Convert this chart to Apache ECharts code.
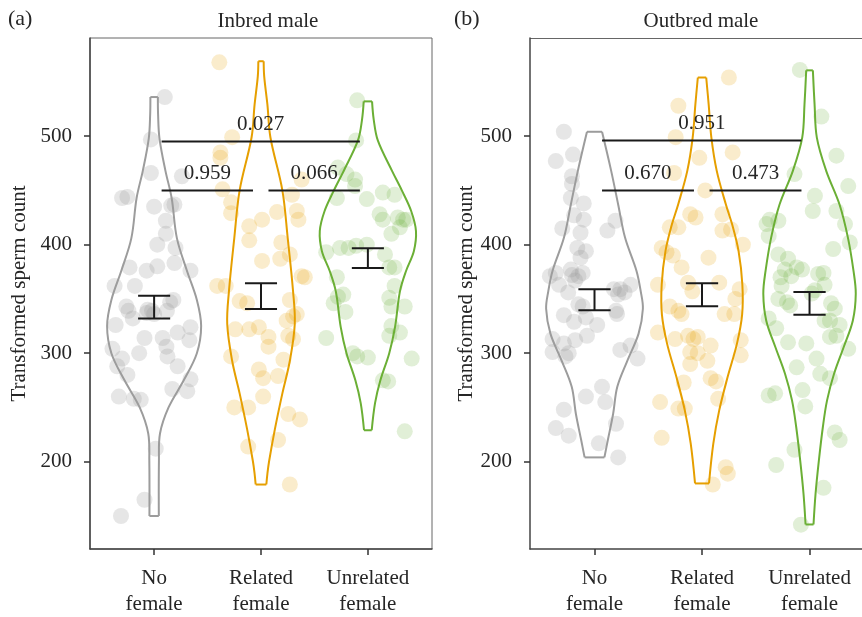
<!DOCTYPE html>
<html><head><meta charset="utf-8">
<script src="https://cdn.jsdelivr.net/npm/echarts@6/dist/echarts.min.js"></script>
<style>html,body{margin:0;padding:0;background:#fff}#c{width:862px;height:617px}</style>
</head><body><div id="c"></div>
<script>
// ---------- DATA ----------
const categories = ['No\nfemale', 'Related\nfemale', 'Unrelated\nfemale'];
const yTicks = [200, 300, 400, 500];
const panelTitles = ['Inbred male', 'Outbred male'];
const panelTags = ['(a)', '(b)'];
const yName = 'Transformed sperm count';

// jittered points: [x offset from category, value]
const noFemaleInbred = [[0.10,536],[-0.03,497],[-0.03,466],[0.26,463],[-0.30,443],[-0.25,444],[0,435],[0.16,436],[0.19,437],[0.11,422],[0.11,410],[0.03,400],[0.20,397],[-0.23,379],[-0.07,376],[0.03,380],[0.19,383],[0.34,376],[-0.37,362],[-0.18,362],[-0.26,343],[-0.24,339],[-0.07,337],[-0.02,339],[0.12,339],[0.18,349],[-0.2,332],[-0.36,326],[-0.06,340],[0,336],[0.15,347],[-0.09,314],[0.08,314],[0.22,319],[0.34,324],[0.33,312],[-0.39,304],[-0.14,300],[0.115,306],[0.125,297],[-0.3,295],[-0.345,288],[-0.25,280],[0.22,288],[0.34,276],[0.17,267],[0.31,265],[-0.33,260],[-0.19,258],[-0.125,257],[0.015,212],[-0.09,165],[-0.31,150]];
const relatedInbred = [[-0.39,568],[-0.27,499],[-0.38,485],[-0.38,480],[-0.36,451],[-0.28,439],[-0.28,429],[-0.11,417],[-0.11,404],[0.01,423],[0.01,385],[-0.41,362],[-0.33,362],[0.38,460],[0.29,446],[0.335,431],[0.35,423],[0.15,430],[0.19,402],[0.27,391],[0.18,387],[0.38,371],[0.41,370],[-0.2,348],[-0.13,346],[0.27,349],[0.335,336],[-0.24,322],[-0.11,322],[-0.02,324],[-0.28,297],[-0.02,285],[0.02,277],[-0.25,250],[-0.12,250],[-0.12,214],[0.3,334],[0.24,330],[0.07,315],[0.07,306],[0.255,316],[0.3,313],[0.21,294],[0.16,279],[0.02,260],[0.255,244],[0.365,239],[0.16,220],[0.27,179]];
const unrelatedInbred = [[-0.1,533],[-0.11,496],[-0.28,471],[-0.2,465],[-0.12,460],[-0.12,454],[-0.29,443],[-0.01,442],[0.14,448],[0.25,446],[0.11,428],[0.14,423],[0.28,425],[0.33,423],[0.36,423],[0.22,410],[0.3,416],[-0.26,397],[-0.18,397],[-0.11,399],[-0.01,400],[-0.39,393],[0.16,391],[0.2,379],[0.25,379],[-0.29,370],[0.25,362],[-0.23,354],[-0.28,352],[-0.21,338],[0.345,343],[-0.39,314],[-0.32,346],[-0.14,300],[-0.1,297],[0,296],[0.14,275],[0.19,274],[0.41,295],[0.345,228],[0.22,325],[0.3,319],[0.22,343],[0.2,351],[0.2,316]];
const noFemaleOutbred = [[-0.285,504],[-0.36,477],[-0.2,483],[-0.21,463],[-0.21,456],[-0.22,443],[-0.1,438],[-0.19,427],[-0.1,423],[-0.3,415],[-0.13,411],[0.195,422],[0.12,413],[-0.16,397],[-0.08,394],[-0.13,388],[-0.36,374],[-0.22,377],[-0.11,374],[-0.18,367],[-0.33,363],[0.18,359],[0.24,359],[0.335,363],[-0.415,371],[-0.21,372],[-0.15,371],[-0.245,356],[-0.15,345],[-0.11,343],[0.22,354],[0.28,356],[0.2,339],[-0.285,335],[-0.19,329],[-0.08,333],[0.025,326],[0.21,336],[-0.39,313],[-0.285,309],[-0.18,312],[-0.07,316],[-0.39,301],[-0.27,297],[-0.24,300],[0.24,303],[0.335,307],[0.4,295],[0.07,269],[-0.08,260],[0.1,255],[-0.285,248],[-0.36,231],[-0.24,224],[0.2,235],[0.04,217],[0.22,204]];
const relatedOutbred = [[-0.22,528],[-0.245,499],[-0.26,466],[-0.11,428],[-0.3,416],[-0.22,416],[-0.375,397],[-0.33,393],[-0.27,390],[-0.19,379],[-0.41,363],[-0.13,365],[0.25,554],[-0.025,480],[0.285,485],[0.03,450],[-0.06,425],[0.19,428],[0.27,414],[0.19,413],[0.38,400],[0.06,388],[0.16,365],[0.35,359],[-0.3,343],[-0.22,339],[-0.19,336],[-0.41,319],[-0.25,313],[-0.13,316],[-0.08,313],[-0.11,301],[-0.11,290],[-0.17,273],[-0.39,255],[-0.22,249],[-0.16,249],[-0.375,222],[0.21,336],[0.3,336],[0.31,350],[-0.04,315],[0.08,307],[0.36,312],[0.36,298],[-0.04,300],[0.05,293],[0.08,277],[0.13,274],[0.15,258],[0.22,195],[0.24,189],[0.1,179],[-0.09,357]];
const unrelatedOutbred = [[-0.09,561],[0.11,518],[0.25,482],[-0.14,465],[0.36,454],[0.05,445],[0.03,431],[0.25,431],[0.33,419],[-0.37,423],[-0.29,422],[-0.4,419],[-0.38,408],[0.375,402],[0.22,396],[-0.29,391],[-0.2,387],[-0.12,379],[-0.07,377],[-0.23,377],[-0.27,370],[-0.17,371],[0.08,373],[0.14,363],[-0.26,362],[-0.29,350],[-0.21,347],[-0.18,344],[0.02,355],[-0.38,332],[-0.31,323],[-0.2,310],[-0.03,309],[0.065,295],[-0.12,287],[0.1,281],[0.19,277],[-0.38,261],[-0.32,263],[-0.065,266],[-0.04,251],[0.235,341],[0.19,330],[0.28,326],[0.19,315],[0.25,316],[0.36,304],[0.14,330],[0.235,227],[0.28,220],[-0.14,211],[-0.31,197],[0.13,176],[-0.08,142],[0.05,358],[0.2,346],[0.13,374]];

// violin outlines: [value, half width in category units]
const violinNoInbred = [[536,0.035],[520,0.037],[498,0.05],[468,0.106],[443,0.164],[406,0.213],[376,0.307],[349,0.40],[325,0.44],[300,0.40],[275,0.277],[250,0.135],[226,0.055],[201,0.045],[150,0.044]];
const violinRelInbred = [[569,0.025],[555,0.03],[529,0.06],[499,0.088],[450,0.2],[406,0.25],[357,0.3],[327,0.316],[293,0.27],[263,0.2],[230,0.13],[200,0.075],[189,0.06],[179,0.05]];
const violinUnInbred = [[532,0.039],[515,0.055],[496,0.093],[468,0.226],[449.5,0.32],[431,0.405],[412.6,0.45],[394,0.43],[376,0.358],[357,0.30],[324,0.254],[300,0.2],[275,0.117],[254,0.067],[229,0.036]];
const violinNoOutbred = [[504,0.07],[468,0.155],[437,0.22],[406.5,0.284],[376,0.39],[357,0.43],[341,0.45],[318,0.41],[293,0.305],[269,0.212],[244,0.173],[220,0.124],[204,0.092]];
const violinRelOutbred = [[554,0.039],[529,0.062],[498.6,0.087],[468,0.137],[437,0.222],[418.7,0.28],[394,0.34],[363.4,0.375],[335.5,0.373],[308.8,0.325],[278,0.238],[247.3,0.16],[216.6,0.105],[180,0.065]];
const violinUnOutbred = [[560.6,0.031],[529,0.047],[498.6,0.068],[468,0.155],[437,0.279],[406.5,0.357],[375.8,0.409],[354.8,0.43],[330.2,0.403],[305.7,0.318],[281,0.228],[256.5,0.163],[232,0.124],[201.2,0.087],[170.5,0.056],[142.2,0.037]];

// mean +/- SE : [low, high]
const seInbred = [[332,353],[340.7,364.4],[378.5,396.6]];
const seOutbred = [[339.5,359],[343.3,364.4],[335.5,356.4]];

// comparisons: [from category, to category, height]
const bracketsInbred = [[1,3,495],[1,2,450],[2,3,450]];
const pInbred = ['0.027','0.959','0.066'];
const bracketsOutbred = [[1,3,496],[1,2,450],[2,3,450]];
const pOutbred = ['0.951','0.670','0.473'];

// ---------- STYLE ----------
const FONT = '"Liberation Serif", "DejaVu Serif", serif';
const TXT = '#262626';
const lineColors = ['#9c9c9c', '#E69F00', '#6BAF35'];
const pointColors = ['rgba(153,153,153,0.3)', 'rgba(230,159,0,0.25)', 'rgba(107,175,53,0.25)'];

const chart = echarts.init(document.getElementById('c'), null, {renderer: 'canvas'});

// panel b is cut by the right edge of the picture: its visible x range stops at 3.49
function axisPair(i, xMax, nameGap) {
  return {
    x: {
      type: 'value', gridIndex: i, min: 0.4, max: xMax,
      axisLine: {show: true, lineStyle: {color: '#444', width: 1.5}},
      axisTick: {show: true, customValues: [1, 2, 3], length: 6, lineStyle: {color: '#333', width: 1.5}},
      axisLabel: {show: true, customValues: [1, 2, 3], formatter: v => categories[Math.round(v) - 1],
        fontFamily: FONT, fontSize: 21, color: TXT, lineHeight: 26, margin: 16},
      splitLine: {show: false}
    },
    y: {
      type: 'value', gridIndex: i, min: 119.6, max: 590.4,
      name: yName, nameLocation: 'middle', nameRotate: 90, nameGap: nameGap,
      nameTextStyle: {fontFamily: FONT, fontSize: 21, color: TXT},
      axisLine: {show: true, lineStyle: {color: '#444', width: 1.5}},
      axisTick: {show: true, customValues: yTicks, length: 6, lineStyle: {color: '#333', width: 1.5}},
      axisLabel: {show: true, customValues: yTicks, fontFamily: FONT, fontSize: 21, color: TXT, margin: 18},
      splitLine: {show: false}
    }
  };
}
const ax0 = axisPair(0, 3.6, 60), ax1 = axisPair(1, 3.488, 52);

function panelSeries(i, pointSets, violins, ses, brackets, plabels) {
  const out = [];
  pointSets.forEach((pts, g) => {
    out.push({
      type: 'scatter', xAxisIndex: i, yAxisIndex: i, symbolSize: 16, z: 1, silent: true,
      itemStyle: {color: pointColors[g], borderWidth: 0},
      data: pts.map(p => [g + 1 + p[0], p[1]])
    });
  });
  out.push({
    type: 'custom', xAxisIndex: i, yAxisIndex: i, z: 3, silent: true,
    data: violins.map((v, g) => [g + 1, v[0][0]]),
    renderItem: function (params, api) {
      const g = params.dataIndex, cx = g + 1, prof = violins[g];
      const L = prof.map(p => api.coord([cx - p[1], p[0]]));
      const R = prof.map(p => api.coord([cx + p[1], p[0]]));
      const st = {stroke: lineColors[g], lineWidth: 2, fill: null};
      return {type: 'group', children: [
        {type: 'polyline', shape: {points: L, smooth: 0.35}, style: st},
        {type: 'polyline', shape: {points: R, smooth: 0.35}, style: st},
        {type: 'line', shape: {x1: L[0][0], y1: L[0][1], x2: R[0][0], y2: R[0][1]}, style: st},
        {type: 'line', shape: {x1: L[L.length-1][0], y1: L[L.length-1][1], x2: R[R.length-1][0], y2: R[R.length-1][1]}, style: st}
      ]};
    }
  });
  out.push({
    type: 'custom', xAxisIndex: i, yAxisIndex: i, z: 4, silent: true,
    data: ses.map((s, g) => [g + 1, s[0], s[1]]),
    renderItem: function (params, api) {
      const x = api.value(0), lo = api.value(1), hi = api.value(2), w = 0.15;
      const a = api.coord([x, lo]), b = api.coord([x, hi]);
      const al = api.coord([x - w, lo]), ar = api.coord([x + w, lo]);
      const bl = api.coord([x - w, hi]), br = api.coord([x + w, hi]);
      const st = {stroke: '#1a1a1a', lineWidth: 2};
      return {type: 'group', children: [
        {type: 'line', shape: {x1: a[0], y1: a[1], x2: b[0], y2: b[1]}, style: st},
        {type: 'line', shape: {x1: al[0], y1: al[1], x2: ar[0], y2: ar[1]}, style: st},
        {type: 'line', shape: {x1: bl[0], y1: bl[1], x2: br[0], y2: br[1]}, style: st}
      ]};
    }
  });
  out.push({
    type: 'custom', xAxisIndex: i, yAxisIndex: i, z: 5, silent: true,
    data: brackets.map((b, k) => [b[0], b[1], b[2], k]),
    renderItem: function (params, api) {
      const x1 = api.value(0) + 0.07, x2 = api.value(1) - 0.075, y = api.value(2);
      const p1 = api.coord([x1, y]), p2 = api.coord([x2, y]);
      return {type: 'group', children: [
        {type: 'line', shape: {x1: p1[0], y1: p1[1], x2: p2[0], y2: p2[1]}, style: {stroke: '#1a1a1a', lineWidth: 2}},
        {type: 'text', style: {text: plabels[params.dataIndex], x: (p1[0] + p2[0]) / 2, y: p1[1] - 17,
          align: 'center', verticalAlign: 'middle', font: '21px ' + FONT, fill: TXT}}
      ]};
    }
  });
  return out;
}

const option = {
  animation: false,
  backgroundColor: '#fff',
  grid: [
    {left: 90, top: 38, width: 342, height: 512, show: true, borderColor: '#666', borderWidth: 1, backgroundColor: 'transparent'},
    {left: 530, top: 38, right: 0, height: 512, show: false}
  ],
  xAxis: [ax0.x, ax1.x],
  yAxis: [ax0.y, ax1.y],
  graphic: [
    {type: 'line', shape: {x1: 530, y1: 38.5, x2: 862, y2: 38.5}, style: {stroke: '#666', lineWidth: 1}, silent: true},
    {type: 'text', left: 8, top: 8, style: {text: panelTags[0], font: '22px ' + FONT, fill: TXT}},
    {type: 'text', left: 454, top: 8, style: {text: panelTags[1], font: '22px ' + FONT, fill: TXT}},
    {type: 'text', x: 268, y: 21, style: {text: panelTitles[0], font: '21px ' + FONT, fill: TXT, align: 'center', verticalAlign: 'middle'}},
    {type: 'text', x: 701, y: 21, style: {text: panelTitles[1], font: '21px ' + FONT, fill: TXT, align: 'center', verticalAlign: 'middle'}}
  ],
  series: [].concat(
    panelSeries(0, [noFemaleInbred, relatedInbred, unrelatedInbred], [violinNoInbred, violinRelInbred, violinUnInbred], seInbred, bracketsInbred, pInbred),
    panelSeries(1, [noFemaleOutbred, relatedOutbred, unrelatedOutbred], [violinNoOutbred, violinRelOutbred, violinUnOutbred], seOutbred, bracketsOutbred, pOutbred)
  )
};
chart.setOption(option);
</script></body></html>
